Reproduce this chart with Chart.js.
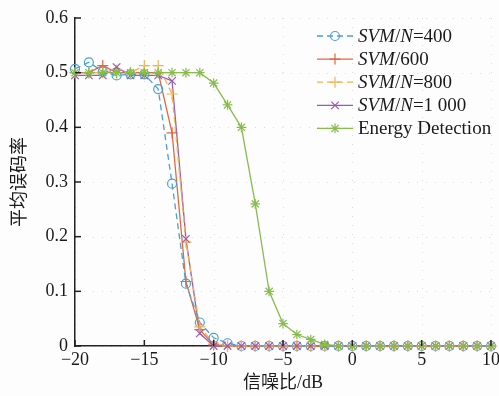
<!DOCTYPE html>
<html>
<head>
<meta charset="utf-8">
<script src="https://cdn.jsdelivr.net/npm/chart.js@4/dist/chart.umd.min.js"></script>
<style>
  html, body { margin: 0; padding: 0; background: #fdfdfd; }
  #wrap { width: 499px; height: 396px; }
</style>
</head>
<body>
<div id="wrap"><canvas id="berChart" width="499" height="396"></canvas></div>
<script>
// 信噪比 (dB), one point per dB
const snr = [-20, -19, -18, -17, -16, -15, -14, -13, -12, -11, -10, -9, -8, -7, -6, -5, -4, -3, -2, -1, 0, 1, 2, 3, 4, 5, 6, 7, 8, 9, 10];

const svm400 = [0.507, 0.519, 0.502, 0.495, 0.497, 0.497, 0.47, 0.297, 0.114, 0.043, 0.015, 0.005, 0, 0, 0, 0, 0, 0, 0, 0, 0, 0, 0, 0, 0, 0, 0, 0, 0, 0, 0];
const svm600 = [0.5, 0.5, 0.513, 0.5, 0.5, 0.5, 0.5, 0.39, 0.118, 0.03, 0.002, 0, 0, 0, 0, 0, 0, 0, 0, 0, 0, 0, 0, 0, 0, 0, 0, 0, 0, 0, 0];
const svm800 = [0.5, 0.5, 0.5, 0.505, 0.5, 0.513, 0.513, 0.461, 0.19, 0.035, 0.005, 0, 0, 0, 0, 0, 0, 0, 0, 0, 0, 0, 0, 0, 0, 0, 0, 0, 0, 0, 0];
const svm1000 = [0.495, 0.495, 0.495, 0.51, 0.495, 0.495, 0.495, 0.485, 0.196, 0.023, 0, 0, 0, 0, 0, 0, 0, 0, 0, 0, 0, 0, 0, 0, 0, 0, 0, 0, 0, 0, 0];
const energy = [0.5, 0.5, 0.5, 0.5, 0.5, 0.5, 0.5, 0.5, 0.5, 0.5, 0.481, 0.441, 0.4, 0.26, 0.1, 0.041, 0.021, 0.012, 0.003, 0, 0, 0, 0, 0, 0, 0, 0, 0, 0, 0, 0];

const xTicks = [-20, -15, -10, -5, 0, 5, 10];
const yTicks = [0, 0.1, 0.2, 0.3, 0.4, 0.5, 0.6];

// legend text pieces: [text, italic]
const legendLabels = [
    [['SVM', true], ['/', false], ['N', true], ['=400', false]],
    [['SVM', true], ['/600', false]],
    [['SVM', true], ['/', false], ['N', true], ['=800', false]],
    [['SVM', true], ['/', false], ['N', true], ['=1 000', false]],
    [['Energy Detection', false]]
];

const serif = '"Liberation Serif", "Times New Roman", "Noto Sans CJK SC", serif';

function pts(arr) {
    return arr.map((v, i) => ({ x: snr[i], y: v }));
}

function drawMarker(ctx, style, r, x, y) {
    ctx.beginPath();
    if (style === 'circle') {
        ctx.arc(x, y, r, 0, Math.PI * 2);
    } else if (style === 'cross') {
        ctx.moveTo(x - r, y); ctx.lineTo(x + r, y);
        ctx.moveTo(x, y - r); ctx.lineTo(x, y + r);
    } else if (style === 'crossRot') {
        const d = r * 0.75;
        ctx.moveTo(x - d, y - d); ctx.lineTo(x + d, y + d);
        ctx.moveTo(x - d, y + d); ctx.lineTo(x + d, y - d);
    } else if (style === 'star') {
        const d = r * 0.75;
        ctx.moveTo(x - r, y); ctx.lineTo(x + r, y);
        ctx.moveTo(x, y - r); ctx.lineTo(x, y + r);
        ctx.moveTo(x - d, y - d); ctx.lineTo(x + d, y + d);
        ctx.moveTo(x - d, y + d); ctx.lineTo(x + d, y - d);
    }
    ctx.stroke();
}

const gridPlugin = {
    id: 'dotGrid',
    beforeDatasetsDraw(chart) {
        const { ctx, chartArea, scales } = chart;
        ctx.save();
        ctx.strokeStyle = 'rgba(0,0,0,0.13)';
        ctx.lineWidth = 1;
        ctx.setLineDash([1, 8]);
        xTicks.forEach(v => {
            const px = Math.round(scales.x.getPixelForValue(v)) + 0.5;
            ctx.beginPath(); ctx.moveTo(px, chartArea.top); ctx.lineTo(px, chartArea.bottom); ctx.stroke();
        });
        yTicks.forEach(v => {
            const py = Math.round(scales.y.getPixelForValue(v)) + 0.5;
            ctx.beginPath(); ctx.moveTo(chartArea.left, py); ctx.lineTo(chartArea.right, py); ctx.stroke();
        });
        ctx.restore();
    },
    afterDraw(chart) {
        // inward tick marks
        const { ctx, chartArea, scales } = chart;
        ctx.save();
        ctx.strokeStyle = '#222';
        ctx.lineWidth = 1.5;
        xTicks.forEach(v => {
            const px = scales.x.getPixelForValue(v);
            ctx.beginPath(); ctx.moveTo(px, chartArea.bottom); ctx.lineTo(px, chartArea.bottom - 6); ctx.stroke();
        });
        yTicks.forEach(v => {
            const py = scales.y.getPixelForValue(v);
            ctx.beginPath(); ctx.moveTo(chartArea.left, py); ctx.lineTo(chartArea.left + 6, py); ctx.stroke();
        });
        ctx.restore();
    }
};

const legendPlugin = {
    id: 'mixLegend',
    afterDraw(chart) {
        const { ctx, chartArea } = chart;
        const x0 = chartArea.right - 174;
        const y0 = chartArea.top + 18;
        const rowH = 23.1;
        ctx.save();
        chart.data.datasets.forEach((ds, i) => {
            const y = y0 + i * rowH;
            ctx.strokeStyle = ds.borderColor;
            ctx.lineWidth = ds.borderWidth;
            ctx.setLineDash(ds.borderDash || []);
            ctx.beginPath(); ctx.moveTo(x0, y); ctx.lineTo(x0 + 36, y); ctx.stroke();
            ctx.setLineDash([]);
            ctx.lineWidth = ds.pointBorderWidth;
            drawMarker(ctx, ds.pointStyle, ds.pointRadius, x0 + 18, y);
            let tx = x0 + 41;
            ctx.fillStyle = '#1a1a1a';
            ctx.textBaseline = 'middle';
            legendLabels[i].forEach(([t, it]) => {
                ctx.font = (it ? 'italic ' : '') + '19px ' + serif;
                ctx.fillText(t, tx, y + 1);
                tx += ctx.measureText(t).width;
            });
        });
        ctx.restore();
    }
};

const markerPlugin = {
    id: 'markers',
    afterDatasetsDraw(chart) {
        // draw markers ourselves so dashes/shapes match
        const { ctx } = chart;
        ctx.save();
        chart.data.datasets.forEach((ds, i) => {
            const meta = chart.getDatasetMeta(i);
            ctx.strokeStyle = ds.borderColor;
            ctx.lineWidth = ds.pointBorderWidth;
            ctx.setLineDash([]);
            meta.data.forEach(pt => {
                drawMarker(ctx, ds.pointStyle, ds.pointRadius, pt.x, pt.y);
            });
        });
        ctx.restore();
    }
};

function series(label, data, color, style, radius, dash) {
    return {
        label: label,
        data: pts(data),
        borderColor: color,
        borderWidth: 1.3,
        borderDash: dash,
        pointStyle: style,
        pointRadius: radius,
        pointBorderWidth: 1.2,
        pointHoverRadius: 0,
        pointBackgroundColor: 'rgba(0,0,0,0)',
        pointBorderColor: 'rgba(0,0,0,0)',
        tension: 0,
        clip: false
    };
}

const ctx = document.getElementById('berChart').getContext('2d');
new Chart(ctx, {
    type: 'line',
    data: {
        datasets: [
            series('SVM/N=400', svm400, '#4aa0d6', 'circle', 4.5, [6, 4]),
            series('SVM/600', svm600, '#e2693e', 'cross', 5.5, []),
            series('SVM/N=800', svm800, '#f1b552', 'cross', 5.5, [6, 4]),
            series('SVM/N=1 000', svm1000, '#9a5bab', 'crossRot', 5, []),
            series('Energy Detection', energy, '#88bd4e', 'star', 4.8, [])
        ]
    },
    options: {
        responsive: false,
        animation: false,
        layout: { padding: { top: 18, right: 8, left: 0, bottom: 0 } },
        plugins: {
            legend: { display: false },
            tooltip: { enabled: false }
        },
        scales: {
            x: {
                type: 'linear',
                min: -20,
                max: 10,
                afterFit: s => { s.height = 50; s.paddingRight = 0; s.paddingLeft = 0; },
                grid: { display: false, drawTicks: false, tickLength: 0 },
                border: { display: true, color: '#222', width: 1.5 },
                ticks: {
                    stepSize: 5,
                    color: '#1a1a1a',
                    font: { family: serif, size: 18, lineHeight: 1.0 },
                    padding: 5,
                    callback: v => (v < 0 ? '\u2212' + Math.abs(v) : String(v))
                },
                title: {
                    display: true,
                    text: '信噪比/dB',
                    color: '#1a1a1a',
                    font: { family: serif, size: 18, lineHeight: 1.0 },
                    padding: { top: 4, bottom: 4 }
                }
            },
            y: {
                min: 0,
                max: 0.6,
                afterFit: s => { s.width = 75; },
                grid: { display: false, drawTicks: false, tickLength: 0 },
                border: { display: true, color: '#222', width: 1.5 },
                ticks: {
                    stepSize: 0.1,
                    color: '#1a1a1a',
                    font: { family: serif, size: 18 },
                    padding: 7
                },
                title: {
                    display: true,
                    text: '平均误码率',
                    color: '#1a1a1a',
                    font: { family: serif, size: 18 },
                    padding: { top: 9, bottom: 0 }
                }
            }
        }
    },
    plugins: [gridPlugin, markerPlugin, legendPlugin]
});
</script>
</body>
</html>
